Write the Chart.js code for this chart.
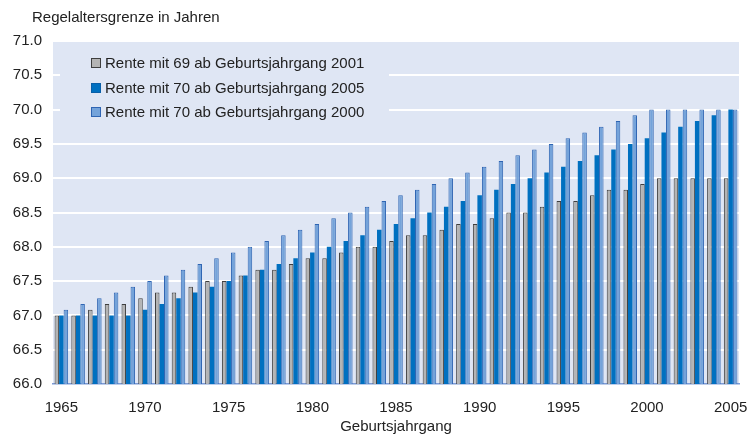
<!DOCTYPE html>
<html>
<head>
<meta charset="utf-8">
<script src="https://cdn.jsdelivr.net/npm/chart.js@4"></script>
<style>
  html, body { margin: 0; padding: 0; background: #ffffff; }
  #wrap { width: 748px; height: 437px; }
</style>
</head>
<body>
<div id="wrap"><canvas id="chart" width="748" height="437"></canvas></div>
<script>
// Geburtsjahrgänge
const jahrgaenge = [1965, 1966, 1967, 1968, 1969, 1970, 1971, 1972, 1973, 1974,
  1975, 1976, 1977, 1978, 1979, 1980, 1981, 1982, 1983, 1984,
  1985, 1986, 1987, 1988, 1989, 1990, 1991, 1992, 1993, 1994,
  1995, 1996, 1997, 1998, 1999, 2000, 2001, 2002, 2003, 2004, 2005];

// Rente mit 69 ab Geburtsjahrgang 2001
const rente69ab2001 = [67.0, 67.0, 67.083, 67.167, 67.167, 67.25, 67.333, 67.333, 67.417, 67.5,
  67.5, 67.583, 67.667, 67.667, 67.75, 67.833, 67.833, 67.917, 68.0, 68.0,
  68.083, 68.167, 68.167, 68.25, 68.333, 68.333, 68.417, 68.5, 68.5, 68.583,
  68.667, 68.667, 68.75, 68.833, 68.833, 68.917, 69.0, 69.0, 69.0, 69.0, 69.0];

// Rente mit 70 ab Geburtsjahrgang 2005
const rente70ab2005 = [67.0, 67.0, 67.0, 67.0, 67.0, 67.083, 67.167, 67.25, 67.333, 67.417,
  67.5, 67.583, 67.667, 67.75, 67.833, 67.917, 68.0, 68.083, 68.167, 68.25,
  68.333, 68.417, 68.5, 68.583, 68.667, 68.75, 68.833, 68.917, 69.0, 69.083,
  69.167, 69.25, 69.333, 69.417, 69.5, 69.583, 69.667, 69.75, 69.833, 69.917, 70.0];

// Rente mit 70 ab Geburtsjahrgang 2000
const rente70ab2000 = [67.083, 67.167, 67.25, 67.333, 67.417, 67.5, 67.583, 67.667, 67.75, 67.833,
  67.917, 68.0, 68.083, 68.167, 68.25, 68.333, 68.417, 68.5, 68.583, 68.667,
  68.75, 68.833, 68.917, 69.0, 69.083, 69.167, 69.25, 69.333, 69.417, 69.5,
  69.583, 69.667, 69.75, 69.833, 69.917, 70.0, 70.0, 70.0, 70.0, 70.0, 70.0];

const schrift = '"Liberation Sans", Arial, sans-serif';
const textFarbe = '#222222';
const flaecheFarbe = '#dfe6f4';

// Hintergrund der Zeichenfläche
const hintergrundPlugin = {
  id: 'hintergrund',
  beforeDraw(chart) {
    const { ctx, chartArea: a } = chart;
    ctx.save();
    ctx.fillStyle = flaecheFarbe;
    ctx.fillRect(a.left, a.top, a.right - a.left, a.bottom - a.top);
    ctx.restore();
  }
};

// Achsentitel oben links und Legende im Diagramm
const beschriftungPlugin = {
  id: 'beschriftung',
  afterDraw(chart) {
    const { ctx, chartArea: a } = chart;
    ctx.save();
    ctx.font = '15px ' + schrift;
    ctx.fillStyle = textFarbe;
    ctx.textBaseline = 'middle';
    ctx.textAlign = 'left';
    ctx.fillText('Regelaltersgrenze in Jahren', 32, 18);

    // Legendenkasten (verdeckt die Gitterlinien)
    ctx.fillStyle = flaecheFarbe;
    ctx.fillRect(60, a.top + 4, 329, 86);

    const zeilen = [63, 88, 112];
    chart.data.datasets.forEach((ds, i) => {
      const y = zeilen[i];
      ctx.fillStyle = ds.backgroundColor;
      ctx.fillRect(91, y - 5, 10, 10);
      ctx.strokeStyle = ds.legendRand;
      ctx.lineWidth = 1;
      ctx.strokeRect(91.5, y - 4.5, 9, 9);
      ctx.fillStyle = textFarbe;
      ctx.fillText(ds.label, 105, y + 1);
    });
    ctx.restore();
  }
};

new Chart(document.getElementById('chart'), {
  type: 'bar',
  data: {
    labels: jahrgaenge,
    datasets: [
      {
        label: 'Rente mit 69 ab Geburtsjahrgang 2001',
        data: rente69ab2001,
        backgroundColor: '#b4b4b4',
        borderColor: '#3f3f3f',
        borderWidth: { left: 1, top: 1, right: 1, bottom: 0 },
        legendRand: '#3f3f3f'
      },
      {
        label: 'Rente mit 70 ab Geburtsjahrgang 2005',
        data: rente70ab2005,
        backgroundColor: '#0070c0',
        borderWidth: 0,
        legendRand: '#0a5fa8'
      },
      {
        label: 'Rente mit 70 ab Geburtsjahrgang 2000',
        data: rente70ab2000,
        backgroundColor: '#74a3da',
        borderColor: '#2f65b3',
        borderWidth: { left: 1, top: 1, right: 1, bottom: 0 },
        legendRand: '#2f65b3'
      }
    ]
  },
  options: {
    responsive: false,
    animation: false,
    layout: { padding: { top: 41, right: 9, left: 0, bottom: 0 } },
    datasets: {
      bar: { categoryPercentage: 0.81, barPercentage: 1.0, borderSkipped: 'bottom' }
    },
    plugins: {
      legend: { display: false },
      tooltip: { enabled: false }
    },
    scales: {
      x: {
        offset: true,
        afterFit(scale) {
          scale.height = 53;
          scale.paddingLeft = 0;
          scale.paddingRight = 0;
        },
        grid: { display: false, drawTicks: false },
        border: { display: true, color: '#7d9bd6', width: 1.5 },
        ticks: {
          autoSkip: false,
          maxRotation: 0,
          minRotation: 0,
          padding: 15,
          color: textFarbe,
          font: { family: schrift, size: 15 },
          callback: function (value, index) {
            const jahr = jahrgaenge[index];
            return jahr % 5 === 0 ? String(jahr) : '';
          }
        },
        title: {
          display: true,
          text: 'Geburtsjahrgang',
          color: textFarbe,
          font: { family: schrift, size: 15 },
          padding: { top: 0, bottom: 1 }
        }
      },
      y: {
        min: 66,
        max: 71,
        afterFit(scale) { scale.width = 53; },
        grid: { color: '#ffffff', lineWidth: 2, drawTicks: false },
        border: { display: false },
        ticks: {
          stepSize: 0.5,
          padding: 11,
          color: textFarbe,
          font: { family: schrift, size: 15 },
          callback: v => Number(v).toFixed(1)
        }
      }
    }
  },
  plugins: [hintergrundPlugin, beschriftungPlugin]
});
</script>
</body>
</html>
